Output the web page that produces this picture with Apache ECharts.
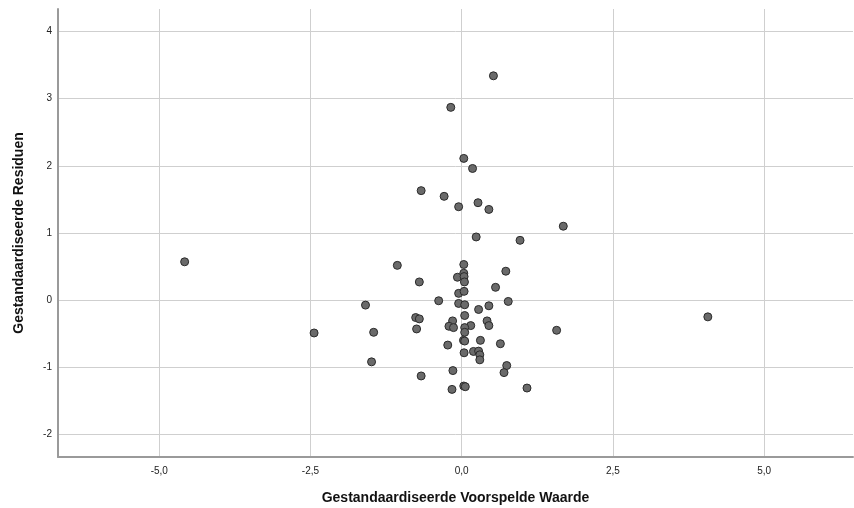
<!DOCTYPE html>
<html><head><meta charset="utf-8">
<script src="https://cdn.jsdelivr.net/npm/echarts@6/dist/echarts.min.js"></script>
<style>html,body{margin:0;padding:0;background:#fff}#c{width:854px;height:508px}</style>
</head><body><div id="c"></div>
<script>
const xTicks = [-5, -2.5, 0, 2.5, 5];
const yTicks = [-2, -1, 0, 1, 2, 3, 4];
const predicted = [
  0.525, -0.18, 0.035, 0.18, -0.67, -0.29, -0.05, 0.27, 0.45, 1.68, 0.24, 0.965,
  -1.064, 0.035, 0.73, -0.07, 0.035, 0.04, 0.046, -0.70, 0.56, -0.05, 0.04,
  -1.59, -0.38, -0.05, 0.05, 0.77, 0.45, 0.28, 0.05, -0.76, -0.70, -0.15, 0.42,
  0.45, -0.21, -0.135, 0.15, 0.05, 0.05, -2.44, -1.455, -0.745, 1.57, 0.03, 0.05,
  0.31, 0.64, -0.23, 0.04, 0.195, 0.28, 0.30, 0.30, -1.49, 0.745, 0.70, -0.145,
  -0.67, 0.035, 0.06, -0.16, 1.08, -4.58, 4.07
];
const residuals = [
  3.34, 2.87, 2.11, 1.96, 1.63, 1.545, 1.39, 1.45, 1.35, 1.10, 0.94, 0.89,
  0.517, 0.53, 0.43, 0.34, 0.40, 0.35, 0.27, 0.27, 0.19, 0.10, 0.13,
  -0.075, -0.01, -0.05, -0.07, -0.02, -0.085, -0.14, -0.23, -0.26, -0.28, -0.31, -0.31,
  -0.38, -0.39, -0.41, -0.38, -0.41, -0.48, -0.49, -0.48, -0.43, -0.45, -0.60, -0.61,
  -0.60, -0.65, -0.67, -0.785, -0.765, -0.76, -0.815, -0.89, -0.92, -0.975, -1.08, -1.05,
  -1.13, -1.28, -1.29, -1.33, -1.31, 0.57, -0.25
];
const xTitle = 'Gestandaardiseerde Voorspelde Waarde';
const yTitle = 'Gestandaardiseerde Residuen';

const points = predicted.map((x, i) => [x, residuals[i]]);
const font = 'Liberation Sans, Arial, sans-serif';
const chart = echarts.init(document.getElementById('c'), null, {renderer: 'canvas'});
chart.setOption({
  animation: false,
  grid: {left: 58, top: 9, right: 1, bottom: 51, containLabel: false, outerBoundsMode: 'none'},
  xAxis: {
    type: 'value', min: -6.674, max: 6.47,
    name: xTitle, nameLocation: 'middle', nameGap: 34,
    nameTextStyle: {fontFamily: font, fontSize: 14, fontWeight: 'bold', color: '#111'},
    axisLine: {show: true, onZero: false, lineStyle: {color: '#9a9a9a', width: 2}},
    axisTick: {show: false, customValues: xTicks},
    axisLabel: {customValues: xTicks, fontFamily: font, fontSize: 10, color: '#222', margin: 9,
      formatter: v => v.toFixed(1).replace('.', ',')},
    splitLine: {show: true, lineStyle: {color: '#cfcfcf', width: 1}}
  },
  yAxis: {
    type: 'value', min: -2.337, max: 4.335,
    name: yTitle, nameLocation: 'middle', nameGap: 32, nameRotate: 90,
    nameTextStyle: {fontFamily: font, fontSize: 14, fontWeight: 'bold', color: '#111'},
    axisLine: {show: true, onZero: false, lineStyle: {color: '#9a9a9a', width: 2}},
    axisTick: {show: false, customValues: yTicks},
    axisLabel: {customValues: yTicks, fontFamily: font, fontSize: 10, color: '#222', margin: 6,
      formatter: v => String(v)},
    splitLine: {show: true, lineStyle: {color: '#cfcfcf', width: 1}}
  },
  series: [{
    type: 'scatter', data: points, symbolSize: 8,
    itemStyle: {color: '#6a6a6a', borderColor: '#2a2a2a', borderWidth: 1, opacity: 1}
  }]
});
</script></body></html>
